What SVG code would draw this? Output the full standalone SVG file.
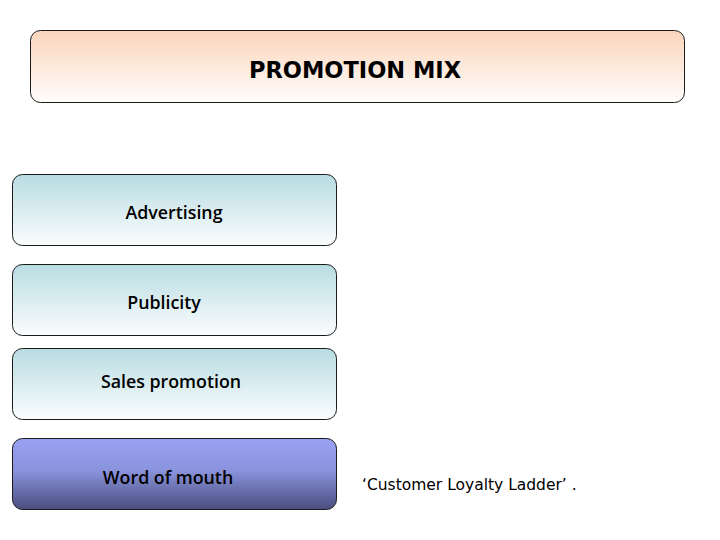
<svg xmlns="http://www.w3.org/2000/svg" width="720" height="540" viewBox="0 0 720 540">
<defs>
<linearGradient id="peach" x1="0" y1="0" x2="0" y2="1"><stop offset="0" stop-color="#fbd5bb"/><stop offset="1" stop-color="#fffdfc"/></linearGradient>
<linearGradient id="teal" x1="0" y1="0" x2="0" y2="1"><stop offset="0" stop-color="#b8dce2"/><stop offset="1" stop-color="#fbfdfe"/></linearGradient>
<linearGradient id="blue" x1="0" y1="0" x2="0" y2="1"><stop offset="0" stop-color="#98a2f2"/><stop offset="0.45" stop-color="#8a93dc"/><stop offset="1" stop-color="#4a4d7e"/></linearGradient>
</defs>
<style>
.box{stroke:#1a1a1a;stroke-width:1}
.lbl{font-family:"Open Sans","Noto Sans","DejaVu Sans",sans-serif;font-weight:600;font-size:17.8px;fill:#000;text-anchor:middle}
.title{font-family:"DejaVu Sans","Verdana",sans-serif;font-weight:bold;font-size:22.5px;fill:#000;text-anchor:middle}
</style>
<rect width="720" height="540" fill="#fff"/>
<g id="promotion-mix">
<rect class="box" x="30.5" y="30.5" width="654" height="72" rx="10" fill="url(#peach)"/>
<text class="title" x="355" y="78">PROMOTION MIX</text>
</g>
<g id="advertising">
<rect class="box" x="12.5" y="174.5" width="324" height="71" rx="10" fill="url(#teal)"/>
<text class="lbl" x="174" y="219">Advertising</text>
</g>
<g id="publicity">
<rect class="box" x="12.5" y="264.5" width="324" height="71" rx="10" fill="url(#teal)"/>
<text class="lbl" x="164" y="309">Publicity</text>
</g>
<g id="sales-promotion">
<rect class="box" x="12.5" y="348.5" width="324" height="71" rx="10" fill="url(#teal)"/>
<text class="lbl" x="171" y="388">Sales promotion</text>
</g>
<g id="word-of-mouth">
<rect class="box" x="12.5" y="438.5" width="324" height="71" rx="10" fill="url(#blue)"/>
<text class="lbl" x="168" y="484">Word of mouth</text>
</g>
<g id="connectors"></g>
<text x="362" y="490" style="font-family:'DejaVu Sans',Verdana,sans-serif;font-size:15.5px;fill:#000">‘Customer Loyalty Ladder’ .</text>
</svg>
